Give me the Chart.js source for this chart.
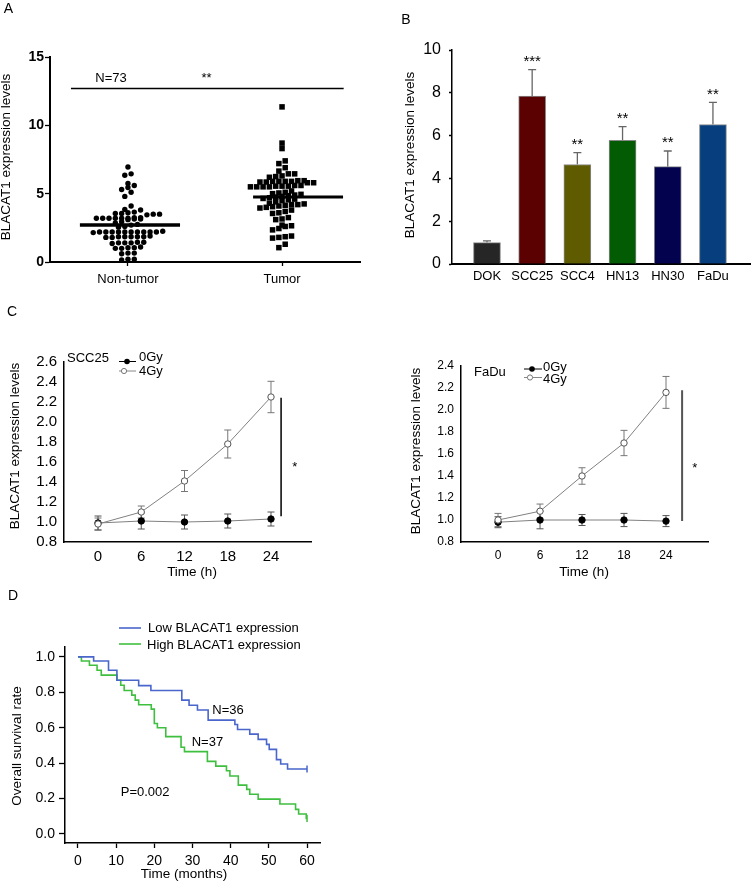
<!DOCTYPE html>
<html><head><meta charset="utf-8">
<script src="https://cdn.jsdelivr.net/npm/chart.js@4.4.0/dist/chart.umd.min.js"></script>
<style>
html,body{margin:0;padding:0;background:#fff;}
#wrap{position:relative;width:751px;height:882px;overflow:hidden;background:#fff;}
canvas{position:absolute;left:0;top:0;width:751px;height:882px;}
</style></head><body><div id="wrap">
<canvas id="cA" width="751" height="882"></canvas>
<canvas id="cB" width="751" height="882"></canvas>
<canvas id="cC1" width="751" height="882"></canvas>
<canvas id="cC2" width="751" height="882"></canvas>
<canvas id="cD" width="751" height="882"></canvas>
</div>
<script>
// ================= DATA =================
// Panel A
const groupsA = ['Non-tumor', 'Tumor'];
const nonTumor = [6.95, 6.45, 6.35, 5.75, 5.6, 5.45, 5.3, 5.1, 4.8, 4.1, 3.85, 3.8,
  3.65, 3.6, 3.55, 3.55, 3.5, 3.5, 3.45,
  3.25, 3.25, 3.2, 3.2, 3.2, 3.2, 3.15, 3.15, 3.2, 3.1, 3.2,
  2.95, 2.85, 2.75, 2.7, 2.6, 2.55,
  2.25, 2.2, 2.2, 2.2, 2.2, 2.2, 2.2, 2.2, 2.2, 2.2, 2.2, 2.15,
  1.9, 1.85, 1.85, 1.85, 1.8, 1.85, 1.8, 1.85,
  1.45, 1.4, 1.4, 1.35, 1.4, 1.45,
  1.1, 1.05, 1.0, 1.05, 1.0,
  0.65, 0.6, 0.65,
  0.2, 0.15, 0.2];
const tumor = [11.35, 8.7, 8.3, 7.4, 7.2, 6.9, 6.65, 6.45, 6.45, 6.3, 6.2, 6.25,
  5.95, 5.9, 5.9, 5.85, 5.8, 5.95, 5.85, 5.9, 5.8, 5.9,
  5.55, 5.5, 5.55, 5.5, 5.6, 5.5, 5.55, 5.5, 5.6,
  5.2, 5.1, 5.05, 5.0, 4.95, 4.9, 4.85, 4.8, 4.75, 4.7, 4.65, 4.6, 4.55, 4.5,
  4.4, 4.3, 4.25, 4.2, 4.2, 4.15, 4.1, 4.05, 4.0, 3.95,
  3.8, 3.7, 3.6, 3.55,
  3.25, 3.15, 3.1,
  2.7, 2.65, 2.6, 2.45, 2.35,
  1.9, 1.85, 1.8, 1.75,
  1.3, 1.05];
const medianA = [2.7, 4.75];
const sigLevelA = 12.7;
const ticksA = [0, 5, 10, 15];

// Panel B
const cellLines = ['DOK', 'SCC25', 'SCC4', 'HN13', 'HN30', 'FaDu'];
const exprB = [1.0, 7.85, 4.65, 5.78, 4.55, 6.52];
const errB = [0.08, 1.23, 0.55, 0.64, 0.73, 1.03];
const sigB = ['', '***', '**', '**', '**', '**'];
const ticksB = [0, 2, 4, 6, 8, 10];

// Panel C
const hours = [0, 6, 12, 18, 24];
const scc25Gy0 = [0.99, 1.01, 1.00, 1.01, 1.03];
const scc25Gy0Err = [0.07, 0.08, 0.07, 0.07, 0.07];
const scc25Gy4 = [0.98, 1.10, 1.41, 1.78, 2.25];
const scc25Gy4Err = [0.06, 0.06, 0.105, 0.14, 0.157];
const faduGy0 = [0.98, 1.00, 1.00, 1.00, 0.99];
const faduGy0Err = [0.05, 0.08, 0.05, 0.06, 0.05];
const faduGy4 = [1.00, 1.08, 1.40, 1.70, 2.16];
const faduGy4Err = [0.06, 0.065, 0.075, 0.115, 0.145];
const ticksC1 = [0.8, 1.0, 1.2, 1.4, 1.6, 1.8, 2.0, 2.2, 2.4, 2.6];
const ticksC2 = [0.8, 1.0, 1.2, 1.4, 1.6, 1.8, 2.0, 2.2, 2.4];

// Panel D (Kaplan-Meier)
const monthsLow = [0, 4.1, 8, 10.2, 15.9, 19.1, 27.2, 29.1, 31.3, 34.1, 41.1, 41.8, 45, 47.2, 49.4, 50.1, 52, 53.1, 54.9, 60];
const survLow = [1, 0.977, 0.925, 0.868, 0.838, 0.81, 0.756, 0.727, 0.70, 0.643, 0.618, 0.59, 0.564, 0.534, 0.506, 0.478, 0.42, 0.395, 0.367, 0.367];
const monthsHigh = [0, 0.9, 3, 5, 6.1, 10.2, 11.2, 12.1, 14.1, 15, 15.9, 19.2, 20, 20.8, 23, 27, 27.9, 33.9, 36.1, 38.9, 39.8, 42, 44.2, 45, 47.2, 52.9, 57, 57.8, 59.8, 60];
const survHigh = [1, 0.977, 0.953, 0.925, 0.897, 0.868, 0.84, 0.81, 0.784, 0.756, 0.73, 0.705, 0.624, 0.6, 0.55, 0.49, 0.465, 0.41, 0.383, 0.357, 0.327, 0.276, 0.252, 0.224, 0.197, 0.169, 0.139, 0.113, 0.088, 0.088];
const ticksDx = [0, 10, 20, 30, 40, 50, 60];
const ticksDy = [0, 0.2, 0.4, 0.6, 0.8, 1.0];

// ================= SETUP =================
const FONT = "'Liberation Sans', Arial, Helvetica, sans-serif";
Chart.defaults.font.family = FONT;
Chart.defaults.color = '#000';
Chart.defaults.animation = false;
Chart.defaults.plugins.legend.display = false;
Chart.defaults.plugins.tooltip.enabled = false;

function scaleCfg(o) {
  return {
    type: 'linear', min: o.min, max: o.max, offset: false,
    afterBuildTicks: s => { s.ticks = o.ticks.map(v => ({ value: v })); },
    afterFit: s => { if (o.isX) s.height = o.fit; else s.width = o.fit; },
    ticks: {
      autoSkip: false, maxRotation: 0, minRotation: 0, padding: o.pad, color: '#000',
      font: { size: o.size, weight: o.weight || 'normal' },
      callback: (v, i) => o.labels ? o.labels[i] : (o.fmt ? o.fmt(v) : String(v))
    },
    grid: { display: o.tickLen > 0, drawOnChartArea: false, drawTicks: o.tickLen > 0, tickLength: o.tickLen, tickColor: '#000', tickWidth: 1.3, offset: false },
    border: { display: true, color: '#000', width: o.borderW }
  };
}

// Draw fixed/data-anchored texts and legend shapes
const decoPlugin = {
  id: 'deco',
  afterDraw(chart, args, opts) {
    const ctx = chart.ctx;
    (opts.items || []).forEach(it => {
      let x = it.x, y = it.y;
      if (it.data) { x = chart.scales.x.getPixelForValue(it.x); y = chart.scales.y.getPixelForValue(it.y); }
      ctx.save();
      if (it.kind === 'seg') {
        ctx.strokeStyle = it.color; ctx.lineWidth = it.width || 1;
        ctx.beginPath(); ctx.moveTo(it.x1, y); ctx.lineTo(it.x2, y); ctx.stroke();
      } else if (it.kind === 'dot') {
        ctx.beginPath(); ctx.arc(x, y, it.r, 0, Math.PI * 2);
        ctx.fillStyle = it.fill; ctx.fill();
        if (it.stroke) { ctx.strokeStyle = it.stroke; ctx.lineWidth = 1; ctx.stroke(); }
      } else {
        ctx.font = it.font || ('13px ' + FONT);
        ctx.fillStyle = it.color || '#000';
        ctx.textAlign = it.align || 'center';
        ctx.textBaseline = 'middle';
        ctx.translate(x, y);
        if (it.rotate) ctx.rotate(it.rotate);
        ctx.fillText(it.text, 0, 0);
      }
      ctx.restore();
    });
  }
};

// Error bars (+ significance stars above)
const errPlugin = {
  id: 'errBars',
  beforeDatasetsDraw(chart) {
    const ctx = chart.ctx, ys = chart.scales.y;
    chart.data.datasets.forEach((ds, di) => {
      if (!ds.err) return;
      const meta = chart.getDatasetMeta(di);
      meta.data.forEach((el, i) => {
        const v = ds.data[i].y, e = ds.err[i];
        const x = el.x;
        const yT = ys.getPixelForValue(v + e);
        const yB = ds.errUpper ? ys.getPixelForValue(v) : ys.getPixelForValue(v - e);
        ctx.save();
        ctx.strokeStyle = ds.errColor || '#666'; ctx.lineWidth = ds.errWidth || 1;
        ctx.beginPath();
        ctx.moveTo(x, yT); ctx.lineTo(x, yB);
        ctx.moveTo(x - ds.errCap, yT); ctx.lineTo(x + ds.errCap, yT);
        if (!ds.errUpper) { ctx.moveTo(x - ds.errCap, yB); ctx.lineTo(x + ds.errCap, yB); }
        ctx.stroke();
        if (ds.sig && ds.sig[i]) {
          ctx.fillStyle = '#000'; ctx.font = '15px ' + FONT;
          ctx.textAlign = 'center'; ctx.textBaseline = 'middle';
          ctx.fillText(ds.sig[i], x, yT - 8);
        }
        ctx.restore();
      });
    });
  }
};

function swarm(values, center, step, gap) {
  const sorted = values.slice().sort((a, b) => a - b);
  const rows = []; let cur = null;
  sorted.forEach(v => {
    if (!cur || v - cur.start > gap) { cur = { start: v, vals: [] }; rows.push(cur); }
    cur.vals.push(v);
  });
  const pts = [];
  rows.forEach(r => {
    const n = r.vals.length;
    r.vals.forEach((v, i) => pts.push({ x: center + (i - (n - 1) / 2) * step, y: v }));
  });
  return pts;
}
const ROT = -Math.PI / 2;
const T13 = '13.5px ' + FONT;

// ================= PANEL A =================
new Chart(document.getElementById('cA'), {
  type: 'scatter',
  data: { datasets: [
    { type: 'line', data: [{ x: 1 - 0.312, y: medianA[0] }, { x: 1 + 0.338, y: medianA[0] }], borderColor: '#000', borderWidth: 3.5, pointRadius: 0 },
    { type: 'line', data: [{ x: 2 - 0.188, y: medianA[1] }, { x: 2 + 0.396, y: medianA[1] }], borderColor: '#000', borderWidth: 3, pointRadius: 0 },
    { type: 'line', data: [{ x: 0.63, y: sigLevelA }, { x: 2.40, y: sigLevelA }], borderColor: '#000', borderWidth: 1.5, pointRadius: 0 },
    { label: groupsA[0], data: swarm(nonTumor, 1, 0.041, 0.3), pointStyle: 'circle', pointRadius: 2.7, backgroundColor: '#000', borderWidth: 0 },
    { label: groupsA[1], data: swarm(tumor, 2, 0.041, 0.3), pointStyle: 'rect', pointRadius: 3.9, backgroundColor: '#000', borderWidth: 0 }
  ] },
  options: {
    responsive: false, devicePixelRatio: 1,
    layout: { padding: { left: 0, top: 57, right: 391, bottom: 580 } },
    scales: {
      x: scaleCfg({ isX: true, min: 0.494, max: 2.506, ticks: [1, 2], labels: groupsA, size: 13, pad: 6, tickLen: 4, borderW: 2, fit: 40 }),
      y: scaleCfg({ min: 0, max: 15, ticks: ticksA, size: 14, weight: 'bold', pad: 1, tickLen: 5, borderW: 2, fit: 50 })
    },
    plugins: { deco: { items: [
      { text: 'A', x: 8.5, y: 9, font: '14px ' + FONT },
      { text: 'BLACAT1 expression levels', x: 6, y: 157, rotate: ROT, font: T13 },
      { text: 'N=73', data: true, x: 0.89, y: 13.45, font: '13px ' + FONT },
      { text: '**', data: true, x: 1.51, y: 13.45, font: '13px ' + FONT }
    ] } }
  },
  plugins: [decoPlugin]
});

// ================= PANEL B =================
const barColors = ['#262626', '#5b0101', '#5e5b00', '#035c03', '#02024f', '#073f7e'];
new Chart(document.getElementById('cB'), {
  type: 'bar',
  data: { datasets: [{
    data: cellLines.map((c, i) => ({ x: i + 1, y: exprB[i] })),
    backgroundColor: barColors, borderColor: '#888', borderWidth: 1, barThickness: 27,
    err: errB, errUpper: true, errCap: 4, errColor: '#666', errWidth: 1.3, sig: sigB
  }] },
  options: {
    responsive: false, devicePixelRatio: 1,
    layout: { padding: { left: 400, top: 50, right: 1, bottom: 578 } },
    scales: {
      x: scaleCfg({ isX: true, min: 0.226, max: 6.82, ticks: [1, 2, 3, 4, 5, 6], labels: cellLines, size: 13, pad: 5, tickLen: 0, borderW: 2, fit: 40 }),
      y: scaleCfg({ min: 0, max: 10, ticks: ticksB, size: 16, pad: 8, tickLen: 3, borderW: 1.5, fit: 52 })
    },
    plugins: { deco: { items: [
      { text: 'B', x: 406, y: 20, font: '14px ' + FONT },
      { text: 'BLACAT1 expression levels', x: 410, y: 155, rotate: ROT, font: T13 }
    ] } }
  },
  plugins: [decoPlugin, errPlugin]
});

// ================= PANEL C =================
function timeChart(id, g0, g0e, g4, g4e, cfg) {
  new Chart(document.getElementById(id), {
    type: 'line',
    data: { datasets: [
      { data: hours.map((h, i) => ({ x: h, y: g4[i] })), borderColor: '#808080', borderWidth: 1,
        pointRadius: 3.2, pointBackgroundColor: '#fff', pointBorderColor: '#555', pointBorderWidth: 1,
        err: g4e, errCap: 3.5, errColor: '#777', errWidth: 1 },
      { data: hours.map((h, i) => ({ x: h, y: g0[i] })), borderColor: '#808080', borderWidth: 1,
        pointRadius: 3.2, pointBackgroundColor: '#000', pointBorderColor: '#000', pointBorderWidth: 1,
        err: g0e, errCap: 3.5, errColor: '#555', errWidth: 1 },
      { data: [{ x: cfg.sigX, y: cfg.sigTop }, { x: cfg.sigX, y: cfg.sigBot }], borderColor: cfg.sigColor, borderWidth: cfg.sigW, pointRadius: 0 }
    ] },
    options: {
      responsive: false, devicePixelRatio: 1,
      layout: { padding: cfg.padding },
      scales: {
        x: scaleCfg({ isX: true, min: cfg.xmin, max: cfg.xmax, ticks: hours, size: cfg.font, pad: 6, tickLen: 0, borderW: 1.5, fit: 30 }),
        y: scaleCfg({ min: 0.8, max: cfg.ymax, ticks: cfg.yticks, fmt: v => v.toFixed(1), size: cfg.font, pad: 7, tickLen: 0, borderW: 1.5, fit: cfg.yw })
      },
      plugins: { deco: { items: cfg.items } }
    },
    plugins: [decoPlugin, errPlugin]
  });
}

timeChart('cC1', scc25Gy0, scc25Gy0Err, scc25Gy4, scc25Gy4Err, {
  padding: { left: 0, top: 362, right: 440, bottom: 310 }, yw: 64,
  xmin: -4.72, xmax: 29.55, ymax: 2.6, yticks: ticksC1, font: 15,
  sigX: 25.4, sigTop: 2.243, sigBot: 1.057, sigColor: '#000', sigW: 1.5,
  items: [
    { text: 'C', x: 12, y: 312, font: '14px ' + FONT },
    { text: 'BLACAT1 expression levels', x: 15, y: 446, rotate: ROT, font: T13 },
    { text: 'Time (h)', x: 192, y: 572, font: T13 },
    { text: 'SCC25', x: 67, y: 358, align: 'left', font: '13px ' + FONT },
    { kind: 'seg', x1: 119, x2: 136, y: 361.5, color: '#000', width: 1 },
    { kind: 'dot', x: 127, y: 361.5, r: 2.8, fill: '#000' },
    { text: '0Gy', x: 139, y: 357, align: 'left', font: '13px ' + FONT },
    { kind: 'seg', x1: 119, x2: 136, y: 371, color: '#888', width: 1 },
    { kind: 'dot', x: 124, y: 371, r: 2.6, fill: '#fff', stroke: '#777' },
    { text: '4Gy', x: 139, y: 371.5, align: 'left', font: '13px ' + FONT },
    { text: '*', data: true, x: 27.3, y: 1.55, font: '13px ' + FONT }
  ]
});

timeChart('cC2', faduGy0, faduGy0Err, faduGy4, faduGy4Err, {
  padding: { left: 420, top: 366, right: 43, bottom: 310 }, yw: 41,
  xmin: -5.29, xmax: 30, ymax: 2.4, yticks: ticksC2, font: 12,
  sigX: 26.3, sigTop: 2.18, sigBot: 0.99, sigColor: '#555', sigW: 2,
  items: [
    { text: 'BLACAT1 expression levels', x: 416, y: 451, rotate: ROT, font: T13 },
    { text: 'Time (h)', x: 584, y: 572, font: T13 },
    { text: 'FaDu', x: 474, y: 372, align: 'left', font: '13px ' + FONT },
    { kind: 'seg', x1: 524, x2: 542, y: 369, color: '#000', width: 1 },
    { kind: 'dot', x: 532, y: 369, r: 2.8, fill: '#000' },
    { text: '0Gy', x: 543, y: 367, align: 'left', font: '13px ' + FONT },
    { kind: 'seg', x1: 524, x2: 542, y: 377.5, color: '#888', width: 1 },
    { kind: 'dot', x: 530, y: 377.5, r: 2.6, fill: '#fff', stroke: '#777' },
    { text: '4Gy', x: 543, y: 379.5, align: 'left', font: '13px ' + FONT },
    { text: '*', data: true, x: 28.1, y: 1.47, font: '13px ' + FONT }
  ]
});

// ================= PANEL D =================
const BLUE = '#4a66cc', GREEN = '#3fbf3f';
function kmSet(months, surv, color, label) {
  return { label, data: months.map((m, i) => ({ x: m, y: surv[i] })), stepped: 'before',
    borderColor: color, borderWidth: 1.6, fill: false,
    pointStyle: 'line', pointRotation: 90, pointBorderWidth: 1.5, pointBorderColor: color,
    pointRadius: months.map((m, i) => i === months.length - 1 ? 3.5 : 0) };
}
new Chart(document.getElementById('cD'), {
  type: 'line',
  data: { datasets: [
    kmSet(monthsLow, survLow, BLUE, 'Low BLACAT1 expression'),
    kmSet(monthsHigh, survHigh, GREEN, 'High BLACAT1 expression')
  ] },
  options: {
    responsive: false, devicePixelRatio: 1,
    layout: { padding: { left: 0, top: 647, right: 431, bottom: 9 } },
    scales: {
      x: scaleCfg({ isX: true, min: -3.4, max: 63.4, ticks: ticksDx, size: 14, pad: 5, tickLen: 5, borderW: 1.5, fit: 30 }),
      y: scaleCfg({ min: -0.051, max: 1.056, ticks: ticksDy, fmt: v => v.toFixed(1), size: 14, pad: 4, tickLen: 6, borderW: 1.5, fit: 65 })
    },
    plugins: { deco: { items: [
      { text: 'D', x: 13, y: 596, font: '14px ' + FONT },
      { text: 'Overall survival rate', x: 17, y: 746, rotate: ROT, font: T13 },
      { text: 'Time (months)', x: 184, y: 874, font: T13 },
      { kind: 'seg', x1: 119, x2: 141, y: 628, color: BLUE, width: 1.6 },
      { text: 'Low BLACAT1 expression', x: 148, y: 628, align: 'left', font: '13px ' + FONT },
      { kind: 'seg', x1: 119, x2: 141, y: 644, color: GREEN, width: 1.6 },
      { text: 'High BLACAT1 expression', x: 147, y: 645, align: 'left', font: '13px ' + FONT },
      { text: 'N=36', data: true, x: 39.3, y: 0.695, font: '13px ' + FONT },
      { text: 'N=37', data: true, x: 33.9, y: 0.515, font: '13px ' + FONT },
      { text: 'P=0.002', data: true, x: 17.6, y: 0.235, font: '13px ' + FONT }
    ] } }
  },
  plugins: [decoPlugin]
});
</script>
</body></html>
